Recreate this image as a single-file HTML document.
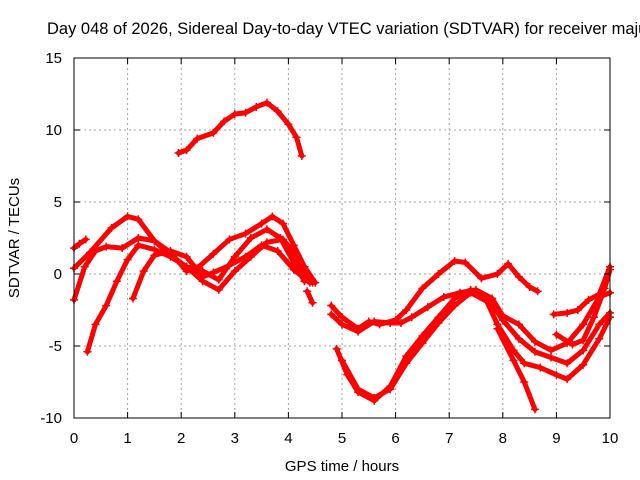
<!DOCTYPE html>
<html><head><meta charset="utf-8"><style>
body{margin:0;background:#fff}
svg{display:block;font-family:"Liberation Sans",sans-serif}
</style></head><body>
<svg id="chart" width="640" height="480">
<rect width="640" height="480" fill="#fff"/>
<text x="47" y="34" font-size="16.5" fill="#000">Day 048 of 2026, Sidereal Day-to-day VTEC variation (SDTVAR) for receiver maju</text>
<g id="grid"></g>
<g id="series"></g>
<rect x="74" y="58" width="536" height="360" fill="none" stroke="#000"/>
<g id="ticks"></g>
<text x="342" y="471" font-size="15" text-anchor="middle">GPS time / hours</text>
<text transform="translate(19,238) rotate(-90)" font-size="15" text-anchor="middle">SDTVAR / TECUs</text>
</svg>
<script>
const xTicks=[0,1,2,3,4,5,6,7,8,9,10];
const yTicks=[-10,-5,0,5,10,15];
const s1=[[1.95,8.4],[2.1,8.6],[2.3,9.4],[2.6,9.8],[2.8,10.6],[3.0,11.1],[3.2,11.2],[3.4,11.6],[3.6,11.9],[3.8,11.3],[4.0,10.4],[4.15,9.5],[4.25,8.2]];
const s2=[[0,-1.8],[0.2,0.5],[0.4,1.6],[0.6,1.9],[0.9,1.8],[1.2,2.5],[1.5,2.3],[1.8,1.3],[2.1,0.5],[2.4,0.2],[2.7,-0.4],[3.0,1.2],[3.3,2.5],[3.6,3.1],[3.85,2.5],[4.1,0.8],[4.3,-0.5]];
const s3=[[0,1.8],[0.1,2.1],[0.22,2.4]];
const s4=[[0,0.4],[0.3,1.5],[0.7,3.2],[1.0,4.0],[1.2,3.8],[1.5,2.3],[1.8,1.5],[2.1,0.2],[2.3,0.4],[2.6,1.4],[2.9,2.4],[3.2,2.8],[3.5,3.5],[3.7,4.0],[3.9,3.5],[4.1,2.0],[4.3,0.5],[4.5,-0.6]];
const s5=[[0.25,-5.4],[0.4,-3.5],[0.6,-2.2],[0.8,-0.5],[1.0,1.0],[1.2,2.0],[1.5,1.7],[1.8,1.2],[2.1,0.5],[2.4,-0.5],[2.7,-1.1],[3.0,0.2],[3.3,1.2],[3.6,2.2],[3.9,2.4],[4.1,1.5],[4.3,0.1],[4.45,-0.6]];
const s6=[[1.1,-1.7],[1.3,0.2],[1.5,1.3],[1.8,1.6],[2.1,1.2],[2.4,-0.2],[2.6,0.1],[2.9,0.6],[3.2,1.2],[3.5,2.0],[3.8,1.6],[4.1,0.3],[4.4,-0.6]];
const s7=[[4.35,-1.2],[4.45,-2.0]];
const r1=[[4.8,-2.2],[5.0,-3.0],[5.3,-3.8],[5.5,-3.3],[5.7,-3.5],[6.0,-3.2],[6.2,-2.5],[6.5,-1.0],[6.8,0.0],[7.1,0.9],[7.3,0.8],[7.6,-0.3],[7.9,0.0],[8.1,0.7],[8.3,-0.2],[8.5,-0.9],[8.65,-1.2]];
const r2=[[4.8,-2.8],[5.0,-3.5],[5.3,-4.0],[5.6,-3.3],[5.9,-3.4],[6.1,-3.4],[6.3,-3.0],[6.6,-2.3],[6.9,-1.6],[7.2,-1.3],[7.5,-1.1],[7.8,-1.7],[8.0,-2.9],[8.3,-3.5],[8.6,-4.7],[8.9,-5.3],[9.2,-4.8],[9.5,-3.5],[9.8,-1.6],[10,-1.3]];
const r3=[[4.9,-5.2],[5.1,-7.0],[5.3,-8.2],[5.6,-8.8],[5.9,-7.8],[6.2,-5.7],[6.5,-4.3],[6.8,-3.0],[7.1,-1.7],[7.4,-1.1],[7.7,-1.6],[8.0,-3.2],[8.3,-4.5],[8.6,-5.4],[8.9,-5.8],[9.2,-6.2],[9.5,-5.3],[9.8,-3.5],[10,-2.7]];
const r4=[[5.0,-6.0],[5.3,-8.0],[5.6,-8.6],[5.9,-8.0],[6.2,-6.2],[6.5,-4.8],[6.8,-3.4],[7.1,-2.2],[7.4,-1.3],[7.7,-1.9],[7.9,-3.5],[8.2,-5.3],[8.4,-6.2],[8.7,-6.5],[9.0,-7.0],[9.2,-7.3],[9.5,-6.3],[9.8,-4.5],[10,-3.0]];
const r5=[[7.9,-3.8],[8.2,-6.0],[8.4,-7.5],[8.6,-9.4]];
const r6=[[8.95,-2.8],[9.2,-2.7],[9.4,-2.5],[9.6,-1.8],[9.8,-1.4],[10,0.5]];
const r7=[[9.0,-4.2],[9.3,-4.9],[9.5,-4.6],[9.7,-3.0],[9.9,-1.0],[10,0.3]];
const allSeries=[s1,s2,s3,s4,s5,s6,s7,r1,r2,r3,r4,r5,r6,r7];
const X=v=>74+v*53.6, Y=v=>418-(v+10)*14.4;
const NS='http://www.w3.org/2000/svg';
const grid=document.getElementById('grid'),ticks=document.getElementById('ticks'),ser=document.getElementById('series');
function mk(t,a,p){const e=document.createElementNS(NS,t);for(const k in a)e.setAttribute(k,a[k]);p.appendChild(e);return e;}
xTicks.forEach(v=>{
 if(v>0&&v<10){const g=mk('line',{x1:X(v),x2:X(v),y1:58,y2:418,stroke:'#a0a0a0','stroke-dasharray':'2,3'},grid);
 
 }
 const tk=mk('path',{d:`M${X(v)} 418v-6M${X(v)} 58v6`,stroke:'#000'},ticks);
 
 
 const t=mk('text',{x:X(v),y:443,'font-size':15,'text-anchor':'middle'},ticks);t.textContent=v;
 
 
});
yTicks.forEach(v=>{
 if(v>-10&&v<15){const g=mk('line',{x1:74,x2:610,y1:Y(v),y2:Y(v),stroke:'#a0a0a0','stroke-dasharray':'2,3'},grid);
 
 }
 const tk=mk('path',{d:`M74 ${Y(v)}h6M610 ${Y(v)}h-6`,stroke:'#000'},ticks);
 
 
 const t=mk('text',{x:62,y:Y(v)+5,'font-size':15,'text-anchor':'end'},ticks);t.textContent=v;
 
 
});
allSeries.forEach((s,i)=>{
 const pts=s.map(p=>X(p[0])+','+Y(p[1])).join(' ');
 const pl=mk('polyline',{points:pts,fill:'none',stroke:'#f00','stroke-width':5,'stroke-linejoin':'round','stroke-linecap':'round'},ser);
 
 
 s.forEach(p=>{const m=mk('path',{d:`M${X(p[0])-4} ${Y(p[1])}h8M${X(p[0])} ${Y(p[1])-4}v8`,stroke:'#f00','stroke-width':1.5},ser);
  
  });
});
</script>
</body></html>
